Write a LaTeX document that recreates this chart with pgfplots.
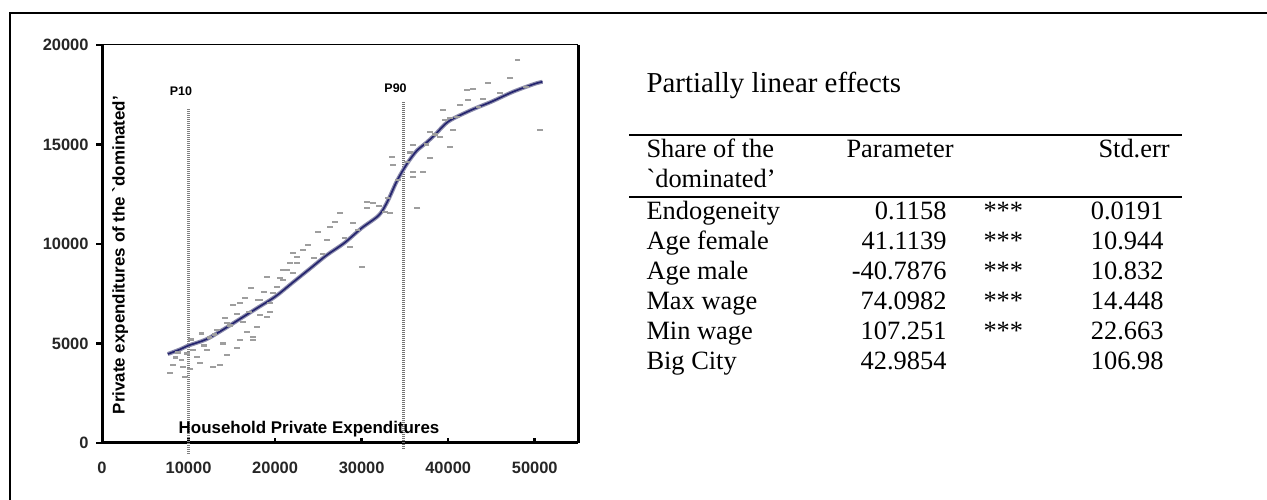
\documentclass[border=0pt]{standalone}
\usepackage{fontspec}
\setmainfont{Liberation Serif}[Ligatures=TeXOff]
\newfontfamily\plotfont{Liberation Sans}
\usepackage{pgfplots}
\usepackage{pgfplotstable}
\pgfplotsset{compat=1.18}
\definecolor{navy}{RGB}{35,35,110}
\definecolor{halo}{RGB}{140,140,172}
\definecolor{dotgray}{RGB}{158,158,158}

% fitted curve
\pgfplotstableread{
x y
7600 4470
9000 4700
10000 4900
12000 5200
14000 5700
16000 6250
18000 6800
20000 7350
22000 8050
24000 8750
26000 9450
28000 10050
30000 10800
32000 11450
33000 12150
34000 13100
34800 13720
35500 14200
36400 14700
37500 15100
38500 15500
40000 16150
42500 16700
45000 17150
47500 17650
50000 18050
50900 18150
}\curvedata

% household observations
\pgfplotstableread{
x y
7860 3520
8200 3920
8500 4300
8800 4550
9200 4170
9370 3820
9600 3300
9800 4500
10200 3700
10300 5200
10500 4670
10980 4320
11330 4020
11500 5500
11800 4900
12100 4670
12400 5300
12830 3820
13000 5450
13290 5680
13640 3920
14000 5000
14200 6300
14450 4420
14450 6030
14800 5900
15140 6930
15600 4770
15600 6500
15950 5170
15950 7030
16300 6100
16500 7300
16760 5580
17000 6600
17200 7800
17460 5170
17460 5330
17920 5830
18000 7200
18270 6430
18270 7180
18700 7600
19060 6330
19060 8340
19420 6580
19420 7030
19770 7540
20230 7840
20580 8290
20920 8190
20920 8690
21390 8700
21730 9050
22080 8540
22080 9550
22500 9050
22540 9350
23240 9700
23820 9950
24500 9300
24970 10600
25500 9500
26010 10200
26360 10850
26940 11110
27510 11560
28000 10300
28670 9850
29020 11060
29500 10700
30060 8840
30640 11810
30640 12110
31330 12060
32000 11900
32720 11610
33000 12300
33290 11560
33530 14370
33640 13970
34200 13200
35260 14120
35600 14600
35950 13370
35950 13620
35950 14970
36420 11810
37110 13620
37500 15000
37920 14320
37920 15630
38500 15500
39080 15380
39420 16730
39650 16230
40230 14870
40230 16330
40580 15730
41000 16400
41390 16990
42200 17740
42310 17240
42890 17790
43500 16900
44000 17300
44620 18090
46000 17600
47170 18340
48000 19250
49000 17900
50640 15730
}\scatterdata

\begin{document}
\begin{tikzpicture}[x=1bp,y=1bp]
\useasboundingbox (0,0) rectangle (1267,500);
\draw[line width=1.5bp] (10,0) -- (10,487) -- (1267,487);

\begin{axis}[
  at={(102bp,57bp)}, anchor=south west,
  width=476bp, height=398bp, scale only axis,
  xmin=0, xmax=55000, ymin=0, ymax=20000,
  clip=false,
  axis x line*=bottom, axis y line*=left,
  axis line style={line width=3bp},
  xtick={0,10000,20000,30000,40000,50000},
  ytick={0,5000,10000,15000,20000},
  scaled ticks=false,
  /pgf/number format/1000 sep={},
  /pgf/number format/assume math mode=true,
  tick align=outside,
  major tick length=6bp,
  tick style={line width=2.5bp, black},
  xtick style={yshift=5bp},
  ticklabel style={font=\plotfont\bfseries\fontsize{16.5}{16.5}\selectfont, text=black!85},
  xticklabel style={yshift=-10bp},
  yticklabel style={xshift=-4bp},
  xlabel={Household Private Expenditures},
  ylabel={Private expenditures of the `dominated’},
  xlabel style={at={(axis description cs:0.435,0.035)}, anchor=center,
    font=\plotfont\bfseries\fontsize{17}{17}\selectfont},
  ylabel style={at={(axis description cs:0.038,0.472)}, anchor=center,
    font=\plotfont\bfseries\fontsize{17}{17}\selectfont},
]
\addplot[black!50, line width=3bp, dash pattern=on 1.2bp off 0.8bp, forget plot]
  coordinates {(10000,16780) (10000,-600)};
\addplot[black!55, line width=3bp, dash pattern=on 1.2bp off 0.8bp, forget plot]
  coordinates {(34800,17130) (34800,-350)};
\addplot[only marks, mark=-, mark size=2.8bp, dotgray,
  mark options={line width=2.2bp}] table {\scatterdata};
\addplot[halo, line width=4bp, smooth] table {\curvedata};
\addplot[navy, line width=1.6bp, smooth] table {\curvedata};
\node[font=\plotfont\bfseries\fontsize{12.5}{12.5}\selectfont] at (axis cs:9115,17690) {P10};
\node[font=\plotfont\bfseries\fontsize{12.5}{12.5}\selectfont] at (axis cs:33920,17840) {P90};
\draw[line width=1bp] (rel axis cs:0,1) -- (rel axis cs:1,1);
\draw[line width=3bp] (rel axis cs:1,0) -- (rel axis cs:1,1);
\end{axis}

% table of partially linear effects
\node[anchor=base west, font=\fontsize{29}{34}\selectfont] at (643,407) {Partially linear effects};
\draw[line width=1.5bp] (629,365) -- (1182,365);
\draw[line width=1.5bp] (629,303) -- (1182,303);
\begin{scope}[every node/.style={font=\fontsize{26.5}{30}\selectfont}]
\node[anchor=base west] at (643,342) {Share of the};
\node[anchor=base west] at (643,312) {`dominated’};
\node[anchor=base west] at (843,342) {Parameter};
\node[anchor=base west] at (1095,342) {Std.err};
\foreach \lab/\pv/\st/\se [count=\i] in {
  Endogeneity/0.1158/***/0.0191,
  Age female/41.1139/***/10.944,
  Age male/-40.7876/***/10.832,
  Max wage/74.0982/***/14.448,
  Min wage/107.251/***/22.663,
  Big City/42.9854//106.98} {
  \pgfmathsetmacro{\yy}{310-30*\i}
  \node[anchor=base west] at (643,\yy) {\lab};
  \node[anchor=base east] at (950,\yy) {\pv};
  \node[anchor=base west] at (980,\yy) {\st};
  \node[anchor=base east] at (1167,\yy) {\se};
}
\end{scope}
\end{tikzpicture}
\end{document}
